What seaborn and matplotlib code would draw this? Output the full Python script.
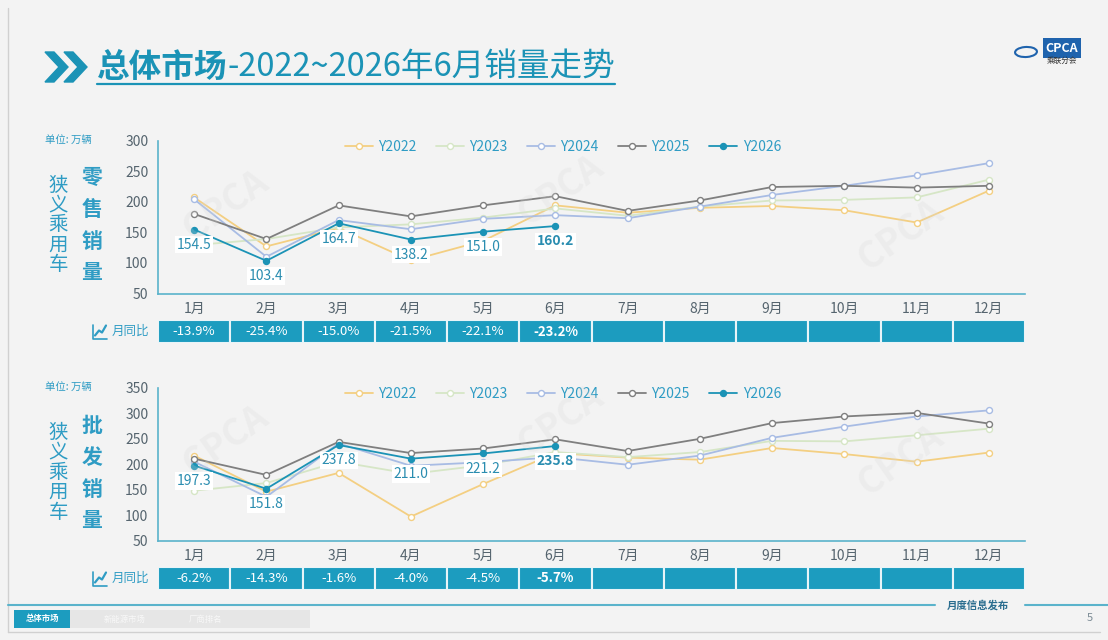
import numpy as np
import pandas as pd
import matplotlib.pyplot as plt
import matplotlib.patches as mpatches
from matplotlib.lines import Line2D
import seaborn as sns

# chart data (万辆)
months = [f'{m}月' for m in range(1, 13)]
years = ['Y2022', 'Y2023', 'Y2024', 'Y2025', 'Y2026']

retail_2022 = [207, 127, 157, 104, 136, 194, 182, 190, 193, 186, 166, 218]
retail_2023 = [129, 139, 158, 163, 174, 189, 177, 192, 202, 203, 207, 236]
retail_2024 = [204, 110, 170, 155, 172, 178, 173, 192, 211, 226, 243, 263]
retail_2025 = [180, 139, 194, 176, 194, 209, 185, 202, 224, 226, 223, 226]
retail_2026 = [154.5, 103.4, 164.7, 138.2, 151.0, 160.2]
retail_yoy = [-13.9, -25.4, -15.0, -21.5, -22.1, -23.2]

whole_2022 = [217, 146, 183, 97, 161, 222, 213, 209, 232, 220, 205, 223]
whole_2023 = [148, 163, 205, 181, 198, 224, 214, 224, 246, 245, 257, 270]
whole_2024 = [205, 136, 241, 197, 204, 214, 199, 217, 252, 274, 294, 306]
whole_2025 = [211, 179, 244, 222, 231, 249, 226, 250, 281, 294, 301, 280]
whole_2026 = [197.3, 151.8, 237.8, 211.0, 221.2, 235.8]
whole_yoy = [-6.2, -14.3, -1.6, -4.0, -4.5, -5.7]

palette = {'Y2022': '#f3cf82', 'Y2023': '#d6e6c6', 'Y2024': '#a8bce4',
           'Y2025': '#7f7f7f', 'Y2026': '#1b93b6'}
TEAL = '#1b93b6'
CELL = '#1c9cbf'
GRAY = '#55646e'
BG = '#f3f3f3'

sns.set_theme(style='white')
plt.rcParams['font.family'] = ['Noto Sans CJK SC', 'DejaVu Sans']

W, H = 1108, 640
fig = plt.figure(figsize=(W / 100, H / 100), dpi=100, facecolor=BG)


def rect(x0, y0, x1, y1):
    return [x0 / W, 1 - y1 / H, (x1 - x0) / W, (y1 - y0) / H]


def fx(x):
    return x / W


def fy(y):
    return 1 - y / H


def long_frame(series):
    rows = []
    for yr, vals in zip(years, series):
        for i, v in enumerate(vals):
            rows.append({'year': yr, 'idx': i, 'value': v})
    return pd.DataFrame(rows)


def draw_panel(series, yoy, top, bottom, ymax, row_top, row_bottom, leg_y, unit_y, word, word_ys, car_y0):
    ax = fig.add_axes(rect(158, top, 1025, bottom))
    ax.set_facecolor('none')
    df = long_frame(series)
    for k, yr in enumerate(years):
        d = df[df['year'] == yr]
        filled = yr == 'Y2026'
        sns.lineplot(data=d, x='idx', y='value', ax=ax, color=palette[yr], lw=1.3,
                     marker='o', markersize=4.3, markerfacecolor=palette[yr] if filled else 'white',
                     markeredgecolor=palette[yr], markeredgewidth=1.0, label=yr, zorder=2 + k)
    last = series[-1]
    for i, v in enumerate(last):
        ax.annotate(f'{v:.1f}', (i, v), xytext=(0, -11), textcoords='offset points',
                    ha='center', va='center', fontsize=10, color='#2a8db0',
                    fontweight='bold' if i == len(last) - 1 else 'normal', zorder=10,
                    bbox=dict(boxstyle='square,pad=0.12', fc='white', ec='none'))

    ax.set_xlim(-0.5, 11.5)
    ax.set_ylim(50, ymax)
    ax.set_xticks(range(12))
    ax.set_xticklabels(months)
    ax.set_xticks(np.arange(-0.5, 12, 1), minor=True)
    ax.set_yticks(np.arange(50, ymax + 1, 50))
    ax.tick_params(axis='x', which='major', length=0, pad=6, labelsize=10, labelcolor=GRAY)
    ax.tick_params(axis='x', which='minor', length=4, width=1, color='#5ab3cb', direction='out')
    ax.tick_params(axis='y', length=3, width=1, color='#5ab3cb', labelsize=10, labelcolor=GRAY, pad=4)
    for s in ['top', 'right']:
        ax.spines[s].set_visible(False)
    for s in ['left', 'bottom']:
        ax.spines[s].set_color('#5ab3cb')
        ax.spines[s].set_linewidth(1.2)
    ax.set_xlabel('')
    ax.set_ylabel('')

    leg = ax.legend(loc='center', bbox_to_anchor=(fx(563), fy(leg_y)), bbox_transform=fig.transFigure,
                    ncol=5, frameon=False, fontsize=10, handlelength=2.0, columnspacing=1.4,
                    handletextpad=0.4)
    for t in leg.get_texts():
        t.set_color('#2f9cc4')

    # yoy row
    tax = fig.add_axes(rect(158, row_top, 1025, row_bottom))
    tax.bar(range(12), [1] * 12, width=1, color=CELL, edgecolor='#e8f4f8', linewidth=1.5)
    tax.set_xlim(-0.5, 11.5)
    tax.set_ylim(0, 1)
    tax.axis('off')
    for i, v in enumerate(yoy):
        tax.text(i, 0.5, f'{v:.1f}%', ha='center', va='center', color='white', fontsize=9.5,
                 fontweight='bold' if i == len(yoy) - 1 else 'normal')
    ym = (row_top + row_bottom) / 2
    fig.text(fx(149), fy(ym), '月同比', ha='right', va='center', color='#2f9cc4', fontsize=9)
    # small chart icon
    fig.add_artist(Line2D([fx(93), fx(93), fx(107)], [fy(ym - 7), fy(ym + 7), fy(ym + 7)],
                          color='#2f9cc4', lw=1.2))
    fig.add_artist(Line2D([fx(95), fx(99), fx(102), fx(106)], [fy(ym + 4), fy(ym - 1), fy(ym + 1), fy(ym - 6)],
                          color='#2f9cc4', lw=1.6))

    fig.text(fx(45), fy(unit_y), '单位: 万辆', ha='left', va='center', color='#2f9cc4', fontsize=7.5)
    for j, ch in enumerate('狭义乘用车'):
        fig.text(fx(58), fy(car_y0 + j * 20), ch, ha='center', va='center', color='#2f9cc4', fontsize=14)
    for ch, yy in zip(word, word_ys):
        fig.text(fx(92), fy(yy), ch, ha='center', va='center', color='#2f9cc4', fontsize=15, fontweight='bold')
    return ax


retail = [retail_2022, retail_2023, retail_2024, retail_2025, retail_2026]
whole = [whole_2022, whole_2023, whole_2024, whole_2025, whole_2026]

draw_panel(retail, retail_yoy, 140.5, 293.5, 300, 320, 343, 147, 140, '零售销量', [177, 210, 242, 272], 185)
draw_panel(whole, whole_yoy, 388, 540.5, 350, 567, 590, 394, 387, '批发销量', [425, 458, 490, 520], 432)

# faint watermarks
for (x, y) in [(225, 205), (560, 190), (900, 235), (225, 440), (560, 420), (900, 460)]:
    fig.text(fx(x), fy(y), 'CPCA', rotation=35, fontsize=26, fontweight='bold', color='#d9d9d9',
             alpha=0.25, ha='center', va='center', zorder=0)

# title
for x0 in [45, 64]:
    pts = [(x0, 52), (x0 + 9, 52), (x0 + 23, 67), (x0 + 9, 82), (x0, 82), (x0 + 14, 67)]
    fig.add_artist(mpatches.Polygon([(fx(a), fy(b)) for a, b in pts], closed=True,
                                    transform=fig.transFigure, color=TEAL))
t1 = fig.text(fx(97), fy(67), '总体市场', ha='left', va='center', fontsize=23.5, fontweight='bold', color=TEAL)
fig.canvas.draw()
bb = t1.get_window_extent()
t2 = fig.text(bb.x1 / W, fy(67), '-2022~2026年6月销量走势', ha='left', va='center', fontsize=23.5, color=TEAL)
fig.canvas.draw()
bb2 = t2.get_window_extent()
fig.add_artist(Line2D([fx(97), bb2.x1 / W], [fy(84), fy(84)], color=TEAL, lw=1.6))

# logo
fig.text(fx(1062), fy(48), 'CPCA', ha='center', va='center', fontsize=9, fontweight='bold', style='italic',
         color='white', bbox=dict(boxstyle='square,pad=0.25', fc='#1f63ad', ec='none'))
fig.text(fx(1062), fy(61), '乘联分会', ha='center', va='center', fontsize=5.5, color='#333333')
fig.add_artist(mpatches.Ellipse((fx(1026), fy(52)), 22 / W, 10 / H, transform=fig.transFigure,
                                fc='none', ec='#1f63ad', lw=1.5, angle=10))

# frame and footer
fig.add_artist(Line2D([fx(8), fx(8)], [fy(8), fy(632)], color='#d0d0d0', lw=1))
fig.add_artist(Line2D([fx(8), fx(1100)], [fy(632), fy(632)], color='#d0d0d0', lw=1))
fig.add_artist(Line2D([fx(8), fx(935)], [fy(605), fy(605)], color='#5ab3cb', lw=1.5))
fig.add_artist(Line2D([fx(1025), fx(1108)], [fy(605), fy(605)], color='#5ab3cb', lw=1.5))
fig.text(fx(978), fy(605), '月度信息发布', ha='center', va='center', fontsize=7.5, style='italic',
         color='#2a6d8f', fontweight='bold')
fig.add_artist(mpatches.Rectangle((fx(70), fy(628)), 240 / W, 18 / H, transform=fig.transFigure,
                                  fc='#e6e6e6', ec='none'))
fig.add_artist(mpatches.Rectangle((fx(14), fy(628)), 56 / W, 18 / H, transform=fig.transFigure,
                                  fc=CELL, ec='none'))
fig.text(fx(42), fy(619), '总体市场', ha='center', va='center', fontsize=6, color='white', fontweight='bold')
fig.text(fx(125), fy(619), '新能源市场', ha='center', va='center', fontsize=6, color='#f8f8f8')
fig.text(fx(205), fy(619), '厂商排名', ha='center', va='center', fontsize=6, color='#f8f8f8')
fig.text(fx(1090), fy(618), '5', ha='center', va='center', fontsize=8, color='#7a8a94')

fig.savefig('out.png', dpi=100, facecolor=BG)
